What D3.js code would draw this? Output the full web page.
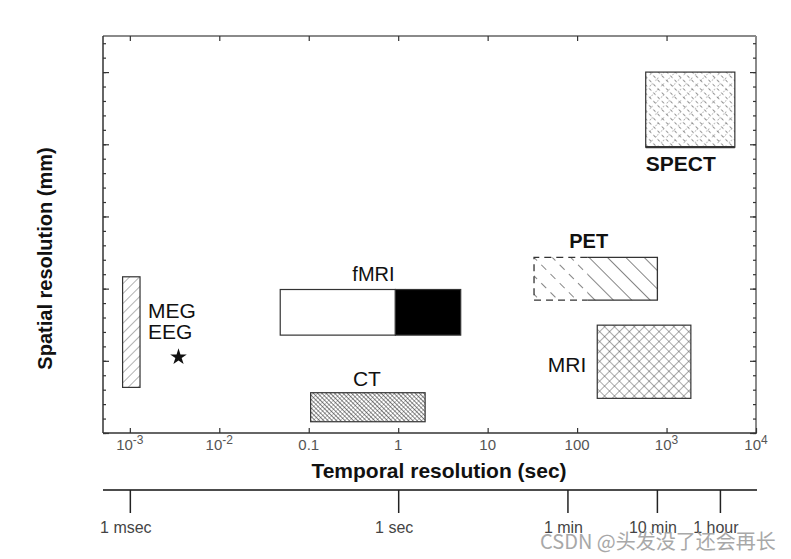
<!DOCTYPE html>
<html><head><meta charset="utf-8">
<script src="https://cdn.jsdelivr.net/npm/d3@7"></script>
<style>body{margin:0;background:#fff}svg{display:block}</style>
</head><body>
<svg id="c" width="791" height="559"></svg>
<script>
// ---- data ----
const modalities = ["MEG/EEG", "fMRI", "CT", "PET", "MRI", "SPECT"];
const timeMin    = [0.00083, 0.048, 0.105, 33,  168,  585];
const timeMax    = [0.0013,  5,     2,     790, 1870, 5800];
const spaceMin   = [3.16,    6.78,  0.78,  9.2, 2.4,  19.8];
const spaceMax   = [10.82,   9.94,  2.79,  12.16, 7.47, 25.0];
const fmriSplit  = 0.93;   // white part up to ~1 s, black beyond
const petSplit   = 130;    // dashed (uncertain) part below ~130 s
const starPoint  = [0.0035, 5.26];
const xTickValues = [1e-3, 1e-2, 0.1, 1, 10, 100, 1e3, 1e4];
const xTickLabels = ["10^-3", "10^-2", "0.1", "1", "10", "100", "10^3", "10^4"];
const timeTickValues = [0.001, 1, 78, 780, 3950];
const timeTickLabels = ["1 msec", "1 sec", "1 min", "10 min", "1 hour"];
const yMinorTicks = d3.range(0, 28, 1);
const yMajorTicks = d3.range(0, 28, 5);

// ---- layout ----
const svg = d3.select("#c");
const L = 103, R = 756, T = 36, B = 433;
const x = d3.scaleLog().domain([Math.pow(10, -3.3), 1e4]).range([L, R]);
const y = d3.scaleLinear().domain([0, 27.5]).range([B, T]);
const font = "'Liberation Sans', Arial, sans-serif";

// ---- patterns ----
const defs = svg.append("defs");
function linePattern(id, spacing, angle, color, width, dash) {
  const p = defs.append("pattern").attr("id", id).attr("patternUnits", "userSpaceOnUse")
    .attr("width", spacing).attr("height", spacing)
    .attr("patternTransform", `rotate(${angle})`);
  const l = p.append("line").attr("x1", 0).attr("y1", 0).attr("x2", 0).attr("y2", spacing)
    .attr("stroke", color).attr("stroke-width", width);
  if (dash) l.attr("stroke-dasharray", dash);
  return p;
}
linePattern("megHatch", 7, 45, "#555", 0.9);
linePattern("ctA", 3, -45, "#222", 1.2);
linePattern("ctB", 3.2, 45, "#666", 0.7);
linePattern("petSolid", 13, -45, "#333", 1.2);
linePattern("petDash", 13, -45, "#333", 1.2, "5,6");
linePattern("mriA", 7, 45, "#444", 0.9);
linePattern("mriB", 7, -45, "#444", 0.9);
linePattern("spectA", 6, -45, "#333", 1.1, "2.5,3");
linePattern("spectB", 8, 45, "#555", 0.9, "1.5,4");

// ---- frame ----
svg.append("line").attr("x1", L).attr("x2", R).attr("y1", T).attr("y2", T)
  .attr("stroke", "#8a8a8a").attr("stroke-width", 2.2);
svg.append("line").attr("x1", R).attr("x2", R).attr("y1", T).attr("y2", B)
  .attr("stroke", "#8a8a8a").attr("stroke-width", 2);
svg.append("line").attr("x1", L).attr("x2", L).attr("y1", T).attr("y2", B)
  .attr("stroke", "#333").attr("stroke-width", 1.5);
svg.append("line").attr("x1", L).attr("x2", R + 1).attr("y1", B).attr("y2", B)
  .attr("stroke", "#333").attr("stroke-width", 1.5);

// y ticks (inward, both sides)
function yTicks(gen, xpos, vals, size) {
  const g = svg.append("g").attr("transform", `translate(${xpos},0)`)
    .call(gen(y).tickValues(vals).tickSize(size).tickFormat(""));
  g.select(".domain").remove();
  g.selectAll(".tick line").attr("stroke", "#333").attr("stroke-width", 1.2);
}
yTicks(d3.axisLeft, L, yMinorTicks, -3);
yTicks(d3.axisLeft, L, yMajorTicks, -6);
yTicks(d3.axisRight, R, yMinorTicks, -3);
yTicks(d3.axisRight, R, yMajorTicks, -6);

// x ticks (inward, bottom and top)
const gxb = svg.append("g").attr("transform", `translate(0,${B})`)
  .call(d3.axisBottom(x).tickValues(xTickValues).tickSize(-5).tickFormat(""));
gxb.select(".domain").remove();
gxb.selectAll(".tick line").attr("stroke", "#333").attr("stroke-width", 1.2);
const gxt = svg.append("g").attr("transform", `translate(0,${T})`)
  .call(d3.axisTop(x).tickValues(xTickValues.slice(0, 7)).tickSize(-5).tickFormat(""));
gxt.select(".domain").remove();
gxt.selectAll(".tick line").attr("stroke", "#333").attr("stroke-width", 1.2);

// x tick labels with superscripts
xTickValues.forEach((v, i) => {
  const lab = xTickLabels[i];
  const t = svg.append("text").attr("x", x(v)).attr("y", 450)
    .attr("text-anchor", "middle").attr("font-family", font)
    .attr("font-size", 15).attr("fill", "#555");
  if (lab.includes("^")) {
    const [base, exp] = lab.split("^");
    t.append("tspan").text(base);
    t.append("tspan").attr("dy", -6).attr("font-size", 12).text(exp);
  } else t.text(lab);
});

// ---- marks ----
const g = svg.append("g");
function rectOf(i, x0, x1) {
  return { rx: x(x0), rw: x(x1) - x(x0), ry: y(spaceMax[i]), rh: y(spaceMin[i]) - y(spaceMax[i]) };
}
function box(i, x0, x1, fills, outline) {
  const { rx, rw, ry, rh } = rectOf(i, x0, x1);
  g.append("rect").attr("x", rx).attr("y", ry).attr("width", rw).attr("height", rh).attr("fill", "#fff");
  fills.forEach(f => g.append("rect").attr("x", rx).attr("y", ry).attr("width", rw).attr("height", rh).attr("fill", f));
  if (outline !== false)
    g.append("rect").attr("x", rx).attr("y", ry).attr("width", rw).attr("height", rh)
      .attr("fill", "none").attr("stroke", "#333").attr("stroke-width", 1.2);
}
// MEG/EEG
box(0, timeMin[0], timeMax[0], ["url(#megHatch)"]);
// fMRI
box(1, timeMin[1], fmriSplit, ["#fff"]);
box(1, fmriSplit, timeMax[1], ["#000"]);
// CT
box(2, timeMin[2], timeMax[2], ["url(#ctB)", "url(#ctA)"]);
// PET: dashed left part, solid right part, no seam line
box(3, timeMin[3], petSplit, ["url(#petDash)"], false);
box(3, petSplit, timeMax[3], ["url(#petSolid)"], false);
{
  const a = x(timeMin[3]), s = x(petSplit), b = x(timeMax[3]);
  const t = y(spaceMax[3]), bt = y(spaceMin[3]);
  g.append("path").attr("d", `M${s},${t}L${b},${t}L${b},${bt}L${s},${bt}`)
    .attr("fill", "none").attr("stroke", "#333").attr("stroke-width", 1.3);
  g.append("path").attr("d", `M${s},${t}L${a},${t}L${a},${bt}L${s},${bt}`)
    .attr("fill", "none").attr("stroke", "#333").attr("stroke-width", 1.3).attr("stroke-dasharray", "7,5");
}
// MRI
box(4, timeMin[4], timeMax[4], ["url(#mriA)", "url(#mriB)"]);
// SPECT
box(5, timeMin[5], timeMax[5], ["url(#spectB)", "url(#spectA)"]);
g.append("line").attr("x1", x(timeMin[5])).attr("x2", x(timeMax[5]))
  .attr("y1", y(spaceMin[5])).attr("y2", y(spaceMin[5])).attr("stroke", "#333").attr("stroke-width", 2.2);

// star
g.append("path").attr("d", d3.symbol(d3.symbolStar, 85)())
  .attr("transform", `translate(${x(starPoint[0])},${y(starPoint[1])})`).attr("fill", "#111");

// ---- labels ----
function label(txt, px, py, anchor, weight, size) {
  svg.append("text").attr("x", px).attr("y", py).attr("text-anchor", anchor)
    .attr("font-family", font).attr("font-weight", weight).attr("font-size", size)
    .attr("fill", "#111").text(txt);
}
label("MEG", x(timeMax[0]) + 8, y(spaceMax[0]) + 41, "start", "normal", 21);
label("EEG", x(timeMax[0]) + 8, y(spaceMax[0]) + 62, "start", "normal", 21);
label("fMRI", (x(timeMin[1]) + x(timeMax[1])) / 2 + 3, y(spaceMax[1]) - 9, "middle", "normal", 20);
label("CT", (x(timeMin[2]) + x(timeMax[2])) / 2 - 1, y(spaceMax[2]) - 7, "middle", "normal", 21);
label("PET", (x(timeMin[3]) + x(timeMax[3])) / 2 - 7, y(spaceMax[3]) - 9, "middle", "bold", 20);
label("MRI", x(timeMin[4]) - 11, (y(spaceMin[4]) + y(spaceMax[4])) / 2 + 10, "end", "normal", 21);
label("SPECT", x(timeMin[5]), y(spaceMin[5]) + 24, "start", "bold", 21);

// axis titles
svg.append("text").attr("x", 439).attr("y", 478).attr("text-anchor", "middle")
  .attr("font-family", font).attr("font-weight", "bold").attr("font-size", 21).attr("fill", "#111")
  .text("Temporal resolution (sec)");
svg.append("text").attr("transform", `translate(52,${(T + B) / 2 + 24}) rotate(-90)`)
  .attr("text-anchor", "middle").attr("font-family", font).attr("font-weight", "bold")
  .attr("font-size", 20).attr("fill", "#111").text("Spatial resolution (mm)");

// ---- secondary time axis ----
svg.append("line").attr("x1", L).attr("x2", 757).attr("y1", 490).attr("y2", 490)
  .attr("stroke", "#111").attr("stroke-width", 1.6);
const gt = svg.append("g").attr("transform", "translate(0,490)")
  .call(d3.axisBottom(x).tickValues(timeTickValues).tickSize(23).tickFormat(""));
gt.select(".domain").remove();
gt.selectAll(".tick line").attr("stroke", "#222").attr("stroke-width", 1.5);
timeTickValues.forEach((v, i) => {
  svg.append("text").attr("x", x(v) - 4).attr("y", 533).attr("text-anchor", "middle")
    .attr("font-family", font).attr("font-size", 16).attr("fill", "#444").text(timeTickLabels[i]);
});

// watermark
svg.append("text").attr("x", 540).attr("y", 549).attr("font-family", "'Noto Sans CJK SC', sans-serif")
  .attr("font-size", 20).attr("fill", "#999").attr("opacity", 0.85).text("CSDN @头发没了还会再长");
</script>
</body></html>
